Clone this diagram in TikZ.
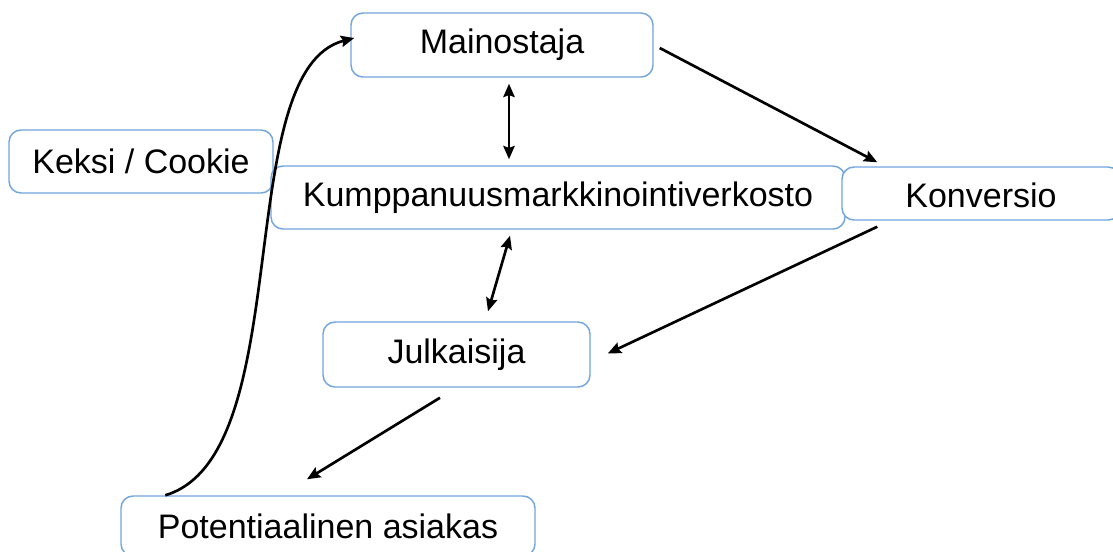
\documentclass[tikz,border=0pt]{standalone}
\usepackage{fontspec}
\setmainfont{Liberation Sans}
\usetikzlibrary{calc}
\usetikzlibrary{arrows.meta}
\definecolor{boxblue}{RGB}{115,165,222}
\tikzset{
 laatikko/.style={draw=boxblue, line width=1.1pt, rounded corners=9pt, fill=white, inner sep=0pt, font=\fontsize{25.5}{30}\selectfont},
 nuoli/.style={black, line width=2pt, >={Stealth[length=10pt, width=8.5pt, inset=1.5pt]}}
}
\begin{document}
\begin{tikzpicture}[x=0.75pt, y=-0.75pt]
\useasboundingbox (0,0) rectangle (1113,551);
\clip (0,0) rectangle (1113,551);
\node[laatikko, minimum width=226.5pt, minimum height=48pt] (mainostaja) at (502,45) {Mainostaja};
\node[laatikko, minimum width=198pt, minimum height=47.25pt] (keksi) at (141,161.5) {Keksi / Cookie};
\node[laatikko, minimum width=430.5pt, minimum height=47.25pt] (verkosto) at (558,197.5) {Kumppanuusmarkkinointiverkosto};
\node[laatikko, minimum width=208.5pt, minimum height=39.75pt, text height=21pt] (konversio) at (981,193.5) {Konversio};
\node[laatikko, minimum width=200.25pt, minimum height=48.75pt] (julkaisija) at (456.5,354.5) {Julkaisija};
\node[laatikko, minimum width=310.5pt, minimum height=45pt] (asiakas) at (328,526) {Potentiaalinen asiakas};
\draw[nuoli, <->] ($(mainostaja.south)+(7,6)$) -- ($(mainostaja.south |- verkosto.north)+(7,-6)$);
\draw[nuoli, <->] ($(verkosto.south)+(-48,6)$) -- ($(julkaisija.north)+(31.5,-10)$);
\draw[nuoli, ->] ($(mainostaja.east)+(6,3)$) -- ($(konversio.north west)+(36,-4)$);
\draw[nuoli, ->] ($(konversio.south west)+(36,6)$) -- ($(julkaisija.east)+(17,-1)$);
\draw[nuoli, ->] ($(julkaisija.south)+(-16.5,10)$) -- ($(asiakas.north)+(-21,-16)$);
\draw[nuoli, ->] ($(asiakas.north west)+(45,0)$) .. controls +(134,-40) and +(-125,32) .. ($(mainostaja.west)+(4,-7)$);
\end{tikzpicture}
\end{document}
